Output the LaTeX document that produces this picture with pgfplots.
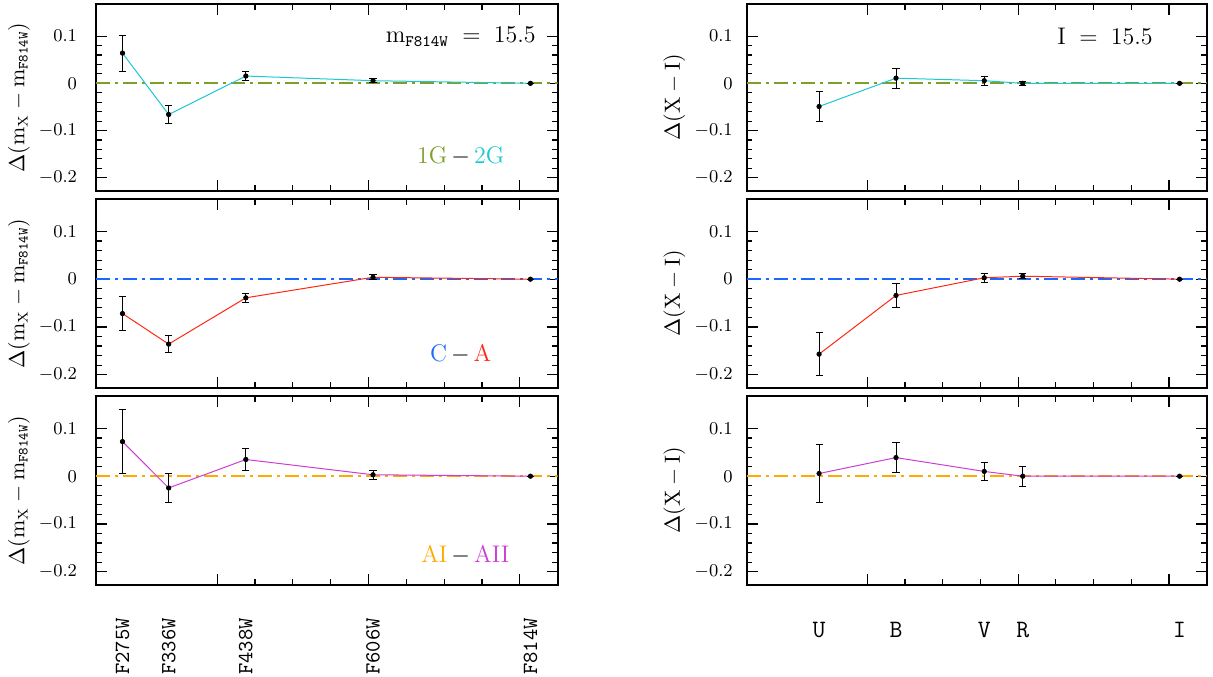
\documentclass[border=0pt]{standalone}
\usepackage{pgfplots}
\pgfplotsset{compat=1.18}
\usepackage{amsmath}
\definecolor{cOlive}{RGB}{122,160,40}
\definecolor{cCyan}{RGB}{30,200,210}
\definecolor{cBlue}{RGB}{25,105,255}
\definecolor{cRed}{RGB}{255,40,20}
\definecolor{cOrange}{RGB}{255,170,0}
\definecolor{cMag}{RGB}{205,60,215}
\pgfplotsset{
  panel/.style={
    scale only axis, anchor=south west,
    xmin=240, xmax=850, ymin=-0.228, ymax=0.168,
    xtick={400,600,800}, xticklabels={}, minor x tick num=3,
    ytick={-0.2,-0.1,0,0.1}, minor y tick num=4,
    major tick length=5.5pt, minor tick length=2.8pt,
    tick style={black, line width=0.6pt},
    axis line style={line width=0.9pt},
    tick label style={font=\fontsize{8.8}{10}\selectfont},
    ylabel style={font=\fontsize{10.5}{12}\selectfont, anchor=center},
  },
  leftpanel/.style={panel, width=230.85pt, yticklabel style={xshift=-6pt},
    ylabel={$\Delta(\mathrm{m}_{\mathrm{X}}-\mathrm{m}_{\mathtt{F814W}})$},
    ylabel style={at={(axis description cs:-0.167,0.5)}}},
  rightpanel/.style={panel, width=230pt, yticklabel style={xshift=-3.5pt},
    ylabel={$\Delta(\mathrm{X}-\mathrm{I})$},
    ylabel style={at={(axis description cs:-0.157,0.5)}}},
  zeroline/.style={line width=1pt, dash pattern=on 7pt off 2.5pt on 1.5pt off 2.5pt},
  dataline/.style={line width=0.5pt, no marks},
  pts/.style={black, only marks, mark=*, mark size=1.1pt,
    error bars/.cd, y dir=both, y explicit,
    error bar style={line width=0.5pt, black},
    error mark options={rotate=90, mark size=1.8pt, line width=0.5pt, black}},
}
\begin{document}
\begin{tikzpicture}[x=1pt,y=1pt]
\path[use as bounding box] (0,0) rectangle (606.5,-338);
% ---------------- top left
\begin{axis}[leftpanel, at={(48pt,-95.5pt)}, height=93.5pt]
\addplot[cOlive, zeroline] coordinates {(240,0) (850,0)};
\addplot[cCyan, dataline] coordinates {(275,0.064) (336,-0.066) (438,0.0155) (606,0.0056) (814,0)};
\addplot[pts] coordinates {(275,0.064) +- (0,0.038) (336,-0.066) +- (0,0.020) (438,0.0155) +- (0,0.009) (606,0.0056) +- (0,0.004) (814,0) +- (0,0)};
\node[font=\fontsize{12}{14}\selectfont] at (axis description cs:0.79,0.825) {$\mathrm{m}_{\mathtt{F814W}}\;=\;15.5$};
\node[font=\fontsize{12}{14}\selectfont] at (axis description cs:0.79,0.189) {\textcolor{cOlive}{1G}$\,-\,$\textcolor{cCyan}{2G}};
\end{axis}
% ---------------- middle left
\begin{axis}[leftpanel, at={(48pt,-194pt)}, height=94.5pt]
\addplot[cBlue, zeroline] coordinates {(240,0) (850,0)};
\addplot[cRed, dataline] coordinates {(275,-0.072) (336,-0.136) (438,-0.039) (606,0.004) (814,0)};
\addplot[pts] coordinates {(275,-0.072) +- (0,0.036) (336,-0.136) +- (0,0.018) (438,-0.039) +- (0,0.0095) (606,0.004) +- (0,0.005) (814,0) +- (0,0)};
\node[font=\fontsize{12}{14}\selectfont] at (axis description cs:0.79,0.178) {\textcolor{cBlue}{C}$\,-\,$\textcolor{cRed}{A}};
\end{axis}
% ---------------- bottom left
\begin{axis}[leftpanel, at={(48pt,-292.5pt)}, height=94.5pt,
  extra x ticks={275,336,438,606,814},
  extra x tick labels={F275W,F336W,F438W,F606W,F814W},
  extra x tick style={major tick length=0pt,
    xticklabel style={font=\ttfamily\fontsize{10.8}{12}\selectfont, yshift=-13pt, rotate=90, anchor=east}}]
\addplot[cOrange, zeroline] coordinates {(240,0) (850,0)};
\addplot[cMag, dataline] coordinates {(275,0.0725) (336,-0.0246) (438,0.035) (606,0.003) (814,0)};
\addplot[pts] coordinates {(275,0.0725) +- (0,0.067) (336,-0.0246) +- (0,0.030) (438,0.035) +- (0,0.0235) (606,0.003) +- (0,0.0095) (814,0) +- (0,0)};
\node[font=\fontsize{12}{14}\selectfont] at (axis description cs:0.80,0.16) {\textcolor{cOrange}{AI}$\,-\,$\textcolor{cMag}{AII}};
\end{axis}
% ---------------- top right
\begin{axis}[rightpanel, at={(373.35pt,-95.5pt)}, height=93.5pt]
\addplot[cOlive, zeroline] coordinates {(240,0) (850,0)};
\addplot[cCyan, dataline] coordinates {(336,-0.049) (438,0.011) (555,0.0056) (606,0) (814,0)};
\addplot[pts] coordinates {(336,-0.049) +- (0,0.032) (438,0.011) +- (0,0.021) (555,0.0056) +- (0,0.0095) (606,0) +- (0,0.0045) (814,0) +- (0,0)};
\node[font=\fontsize{12}{14}\selectfont] at (axis description cs:0.779,0.825) {I$\;\;=\;\;$15.5};
\end{axis}
% ---------------- middle right
\begin{axis}[rightpanel, at={(373.35pt,-194pt)}, height=94.5pt]
\addplot[cBlue, zeroline] coordinates {(240,0) (850,0)};
\addplot[cRed, dataline] coordinates {(336,-0.157) (438,-0.034) (555,0.003) (606,0.0063) (814,0)};
\addplot[pts] coordinates {(336,-0.157) +- (0,0.045) (438,-0.034) +- (0,0.026) (555,0.003) +- (0,0.0095) (606,0.0063) +- (0,0.005) (814,0) +- (0,0)};
\end{axis}
% ---------------- bottom right
\begin{axis}[rightpanel, at={(373.35pt,-292.5pt)}, height=94.5pt,
  extra x ticks={336,438,555,606,814},
  extra x tick labels={U,B,V,R,I},
  extra x tick style={major tick length=0pt,
    xticklabel style={font=\ttfamily\fontsize{12.5}{14}\selectfont, yshift=-15pt}}]
\addplot[cOrange, zeroline] coordinates {(240,0) (850,0)};
\addplot[cMag, dataline] coordinates {(336,0.0056) (438,0.039) (555,0.01) (606,0) (814,0)};
\addplot[pts] coordinates {(336,0.0056) +- (0,0.060) (438,0.039) +- (0,0.031) (555,0.01) +- (0,0.0197) (606,0) +- (0,0.021) (814,0) +- (0,0)};
\end{axis}
\end{tikzpicture}
\end{document}
